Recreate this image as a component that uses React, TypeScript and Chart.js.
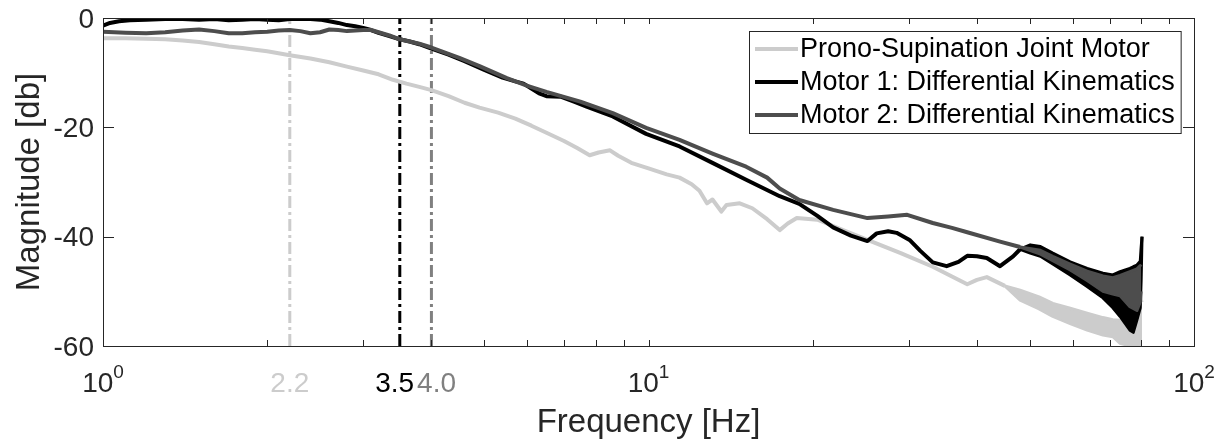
import React, { useEffect, useRef } from "react";
import { Chart, registerables } from "chart.js";

Chart.register(...registerables);

// ---------- data ----------
const seriesLabels = [
  "Prono-Supination Joint Motor",
  "Motor 1: Differential Kinematics",
  "Motor 2: Differential Kinematics",
];
const seriesColors = ["#cccccc", "#000000", "#4d4d4d"];

// Prono-Supination joint motor: smooth part
const pronoFreq = [
  1.0, 1.1, 1.2, 1.3, 1.4, 1.5, 1.6, 1.7, 1.8, 1.9, 2.0, 2.2, 2.4, 2.6, 2.8, 3.0, 3.2, 3.4, 3.6, 3.8,
  4.0, 4.3, 4.6, 4.9, 5.3, 5.7, 6.1, 6.5, 7.0, 7.4, 7.8, 8.1, 8.5, 8.8, 9.3, 10.0, 10.8, 11.4, 12.0,
  12.4, 12.8, 13.1, 13.6, 13.9, 14.7, 15.5, 16.5, 17.4, 18.0, 18.7, 20.4, 22.5, 25.2, 29.0, 33.2,
  36.0, 38.4, 40.0, 41.7, 45.0,
];
const pronoMag = [
  -3.7, -3.7, -3.8, -3.9, -4.1, -4.4, -4.8, -5.2, -5.5, -5.8, -6.1, -6.8, -7.4, -8.1, -8.9, -9.6,
  -10.3, -11.3, -12.0, -12.6, -13.2, -14.3, -15.5, -16.4, -17.3, -18.4, -19.7, -21.0, -22.5, -23.8,
  -25.1, -24.6, -24.2, -25.2, -26.5, -27.5, -28.6, -29.2, -30.4, -31.6, -33.9, -33.2, -35.4, -34.2,
  -33.9, -34.8, -36.8, -38.8, -37.6, -36.6, -36.9, -38.6, -40.6, -43.0, -45.5, -47.3, -48.7, -47.9,
  -47.4, -49.0,
];
// Prono noisy tail: upper and lower envelope of the band
const pronoTailFreq = [45.0, 48.0, 52.0, 55.1, 59.3, 63.7, 68.1, 71.0, 73.2, 76.3, 78.6, 79.7, 80.3];
const pronoTailUpper = [-49.0, -49.8, -51.0, -52.2, -53.1, -54.0, -54.8, -55.2, -55.3, -55.2, -53.0, -50.5, -52.0];
const pronoTailLower = [-49.0, -51.6, -53.2, -54.6, -55.9, -57.1, -58.0, -58.3, -59.5, -60.0, -60.0, -60.0, -60.0];

// Motor 1: smooth part
const motor1Freq = [
  1.0, 1.03, 1.07, 1.12, 1.2, 1.3, 1.4, 1.5, 1.6, 1.7, 1.8, 1.9, 2.0, 2.1, 2.2, 2.3, 2.4, 2.5, 2.6,
  2.7, 2.8, 2.9, 3.0, 3.1, 3.2, 3.35, 3.5, 3.65, 3.8, 4.0, 4.3, 4.6, 5.0, 5.4, 5.7, 5.9, 6.1, 6.3,
  6.5, 6.9, 7.3, 7.7, 8.6, 9.9, 11.4, 13.1, 15.1, 17.4, 18.9, 20.4, 21.8, 23.5, 25.2, 26.2, 27.5,
  28.5, 30.1, 31.5, 33.2, 35.2, 37.0, 38.4, 40.0, 41.7, 44.1, 46.6, 48.0,
];
const motor1Mag = [
  -1.4, -0.9, -0.6, -0.4, -0.3, -0.2, -0.2, -0.3, -0.2, -0.4, -0.3, -0.2, -0.3, -0.4, -0.2, -0.2,
  -0.2, -0.3, -0.6, -0.9, -1.3, -1.5, -1.8, -2.2, -2.7, -3.3, -3.9, -4.3, -4.8, -5.6, -6.7, -7.9,
  -9.5, -10.9, -11.6, -12.0, -12.9, -13.8, -14.3, -14.4, -15.3, -16.2, -18.0, -21.2, -23.5, -26.5,
  -29.6, -32.6, -34.0, -36.2, -38.3, -39.8, -40.8, -39.4, -39.0, -39.3, -40.6, -42.6, -44.7, -45.4,
  -44.6, -43.5, -43.6, -43.9, -45.4, -43.6, -42.3,
];
// Motor 1 noisy tail
const motor1TailFreq = [48.0, 50.1, 52.3, 55.1, 59.3, 63.7, 68.1, 71.0, 73.2, 76.3, 77.4, 78.6, 79.7, 80.0, 80.3];
const motor1TailUpper = [-42.3, -41.5, -41.8, -43.0, -44.6, -45.8, -46.7, -47.0, -46.4, -45.8, -45.5, -45.2, -44.5, -42.0, -40.0];
const motor1TailLower = [-42.3, -43.0, -43.6, -45.0, -47.0, -49.1, -51.2, -53.0, -54.6, -57.1, -57.5, -55.2, -53.0, -48.0, -40.0];

// Motor 2: smooth part
const motor2Freq = [
  1.0, 1.1, 1.2, 1.3, 1.4, 1.5, 1.6, 1.7, 1.8, 1.9, 2.0, 2.1, 2.2, 2.3, 2.4, 2.5, 2.6, 2.7, 2.8, 2.9,
  3.0, 3.1, 3.2, 3.35, 3.5, 3.8, 4.0, 4.5, 4.9, 5.5, 6.0, 6.5, 7.5, 8.6, 9.9, 11.4, 13.1, 15.1, 16.5,
  17.4, 18.9, 21.8, 25.2, 27.5, 29.8, 33.2, 36.0, 38.4, 44.1, 48.0,
];
const motor2Mag = [
  -2.5, -2.7, -2.8, -2.6, -2.3, -2.1, -2.4, -2.8, -2.8, -2.6, -2.5, -2.3, -2.2, -2.4, -2.8, -2.6,
  -2.1, -2.2, -2.4, -2.3, -2.2, -2.2, -2.6, -3.2, -3.9, -4.7, -5.4, -7.3, -8.8, -11.0, -12.4, -13.5,
  -15.3, -17.4, -20.1, -22.3, -24.8, -27.2, -29.2, -31.2, -33.3, -35.1, -36.6, -36.3, -36.0, -37.5,
  -38.4, -39.2, -40.9, -41.9,
];
// Motor 2 noisy tail
const motor2TailFreq = [48.0, 52.3, 55.1, 59.3, 63.7, 68.1, 71.0, 73.2, 76.3, 78.6, 79.7, 80.0];
const motor2TailUpper = [-41.9, -42.5, -43.6, -45.0, -46.3, -47.2, -47.5, -47.1, -46.4, -45.9, -45.3, -45.5];
const motor2TailLower = [-41.9, -43.2, -44.4, -46.1, -48.0, -50.0, -50.5, -50.8, -52.8, -53.5, -52.0, -50.0];

const cutoffFreqs = [2.2, 3.5, 4.0];
const cutoffLabels = ["2.2", "3.5", "4.0"];
const cutoffColors = ["#cccccc", "#000000", "#808080"];

const xRange = [1, 100];
const yRange = [-60, 0];
const yTicks = [-60, -40, -20, 0];
const decadeTicks = [1, 10, 100];
const decadeExponents = ["0", "1", "2"];
const minorTicks = [2, 3, 4, 5, 6, 7, 8, 9, 20, 30, 40, 50, 60, 70, 80, 90];

const xTitle = "Frequency [Hz]";
const yTitle = "Magnitude [db]";

// ---------- drawing helpers ----------
const FONT = "'Liberation Sans', Arial, Helvetica, sans-serif";
const AXIS_COLOR = "#262626";

const matlabAxesPlugin = {
  id: "matlabAxes",
  afterDatasetsDraw(chart: any) {
    const { ctx, chartArea: a } = chart;
    const x = chart.scales.x;
    const y = chart.scales.y;
    const L = Math.round(a.left);
    const R = Math.round(a.right);
    const T = Math.round(a.top);
    const B = Math.round(a.bottom);
    ctx.save();

    // box
    ctx.strokeStyle = AXIS_COLOR;
    ctx.lineWidth = 1;
    ctx.strokeRect(L + 0.5, T + 0.5, R - L, B - T);

    // ticks pointing inward
    ctx.beginPath();
    [...minorTicks, ...decadeTicks].forEach((f) => {
      const px = Math.round(x.getPixelForValue(f)) + 0.5;
      ctx.moveTo(px, B);
      ctx.lineTo(px, B - 6);
      ctx.moveTo(px, T);
      ctx.lineTo(px, T + 6);
    });
    yTicks.forEach((v) => {
      const py = Math.round(y.getPixelForValue(v)) + 0.5;
      ctx.moveTo(L, py);
      ctx.lineTo(L + 11, py);
      ctx.moveTo(R, py);
      ctx.lineTo(R - 11, py);
    });
    ctx.stroke();

    // y tick labels
    ctx.fillStyle = AXIS_COLOR;
    ctx.font = `28px ${FONT}`;
    ctx.textAlign = "right";
    ctx.textBaseline = "middle";
    yTicks.forEach((v) => {
      ctx.fillText(String(v), L - 9, y.getPixelForValue(v) + 2);
    });

    // x decade labels with superscripts
    const baseY = B + 46;
    ctx.textBaseline = "alphabetic";
    ctx.textAlign = "left";
    decadeTicks.forEach((f, i) => {
      ctx.font = `28px ${FONT}`;
      const wBase = ctx.measureText("10").width;
      ctx.font = `19px ${FONT}`;
      const wExp = ctx.measureText(decadeExponents[i]).width;
      const cx = x.getPixelForValue(f);
      const start = cx - (wBase + wExp) / 2;
      ctx.font = `28px ${FONT}`;
      ctx.fillStyle = AXIS_COLOR;
      ctx.fillText("10", start, baseY);
      ctx.font = `19px ${FONT}`;
      ctx.fillText(decadeExponents[i], start + wBase, baseY - 14);
    });

    // cutoff labels (coloured), pushed apart if they collide
    ctx.font = `28px ${FONT}`;
    const boxes = cutoffFreqs.map((f, i) => {
      const w = ctx.measureText(cutoffLabels[i]).width;
      const c = x.getPixelForValue(f);
      return { l: c - w / 2, w, i };
    });
    for (let k = 0; k < boxes.length - 1; k++) {
      const p = boxes[k];
      const n = boxes[k + 1];
      const overlap = p.l + p.w + 3 - n.l;
      if (overlap > 0) {
        p.l -= overlap / 2;
        n.l += overlap / 2;
      }
    }
    boxes.forEach((b) => {
      ctx.fillStyle = cutoffColors[b.i];
      ctx.fillText(cutoffLabels[b.i], b.l, baseY);
    });

    // axis titles
    ctx.fillStyle = AXIS_COLOR;
    ctx.font = `33px ${FONT}`;
    ctx.textAlign = "center";
    ctx.fillText(xTitle, (a.left + a.right) / 2, B + 86);
    ctx.save();
    ctx.translate(L - 73, (a.top + a.bottom) / 2);
    ctx.rotate(-Math.PI / 2);
    ctx.textBaseline = "middle";
    ctx.fillText(yTitle, 0, 0);
    ctx.restore();

    // legend
    ctx.font = `27px ${FONT}`;
    const textW = Math.max(...seriesLabels.map((s) => ctx.measureText(s).width));
    const boxW = 51 + textW + 6;
    const boxH = 102;
    const bx = Math.round(R - 13 - boxW);
    const by = T + 13;
    ctx.fillStyle = "#ffffff";
    ctx.fillRect(bx, by, boxW, boxH);
    ctx.strokeStyle = AXIS_COLOR;
    ctx.lineWidth = 1;
    ctx.strokeRect(bx + 0.5, by + 0.5, boxW, boxH);
    seriesLabels.forEach((s, i) => {
      const ry = by + 18 + i * 33;
      ctx.strokeStyle = seriesColors[i];
      ctx.lineWidth = 4;
      ctx.beginPath();
      ctx.moveTo(bx + 6, ry);
      ctx.lineTo(bx + 49, ry);
      ctx.stroke();
      ctx.fillStyle = "#000000";
      ctx.textAlign = "left";
      ctx.textBaseline = "middle";
      ctx.fillText(s, bx + 51, ry + 1);
    });

    ctx.restore();
  },
};

const toPoints = (fs: number[], ms: number[]) => fs.map((f, i) => ({ x: f, y: ms[i] }));

export default function App() {
  const canvasRef = useRef<HTMLCanvasElement | null>(null);

  useEffect(() => {
    const canvas = canvasRef.current;
    if (!canvas) return;

    const curveBase = {
      borderWidth: 4,
      pointRadius: 0,
      tension: 0,
      fill: false,
      borderJoinStyle: "round" as const,
      borderCapStyle: "butt" as const,
    };

    const bandPair = (
      label: string,
      freq: number[],
      upper: number[],
      lower: number[],
      color: string,
      order: number
    ) => [
      {
        label: label + " (tail upper)",
        data: toPoints(freq, upper),
        borderColor: color,
        backgroundColor: color,
        borderWidth: 3,
        pointRadius: 0,
        tension: 0,
        fill: "+1",
        borderJoinStyle: "round" as const,
        order,
      },
      {
        label: label + " (tail lower)",
        data: toPoints(freq, lower),
        borderColor: color,
        backgroundColor: color,
        borderWidth: 3,
        pointRadius: 0,
        tension: 0,
        fill: false,
        borderJoinStyle: "round" as const,
        order,
      },
    ];

    const cutoffDatasets = cutoffFreqs.map((f, i) => ({
      label: "cutoff " + cutoffLabels[i],
      data: [
        { x: f, y: yRange[0] },
        { x: f, y: yRange[1] },
      ],
      borderColor: cutoffColors[i],
      borderWidth: 3,
      borderDash: [12, 4, 3, 4],
      pointRadius: 0,
      fill: false,
      order: 10,
    }));

    const chart = new Chart(canvas, {
      type: "line",
      data: {
        datasets: [
          { label: seriesLabels[2], data: toPoints(motor2Freq, motor2Mag), borderColor: seriesColors[2], ...curveBase, order: 1 },
          ...bandPair(seriesLabels[2], motor2TailFreq, motor2TailUpper, motor2TailLower, seriesColors[2], 1),
          { label: seriesLabels[1], data: toPoints(motor1Freq, motor1Mag), borderColor: seriesColors[1], ...curveBase, order: 2 },
          ...bandPair(seriesLabels[1], motor1TailFreq, motor1TailUpper, motor1TailLower, seriesColors[1], 2),
          { label: seriesLabels[0], data: toPoints(pronoFreq, pronoMag), borderColor: seriesColors[0], ...curveBase, order: 3 },
          ...bandPair(seriesLabels[0], pronoTailFreq, pronoTailUpper, pronoTailLower, seriesColors[0], 3),
          ...cutoffDatasets,
        ],
      },
      options: {
        animation: false,
        responsive: false,
        devicePixelRatio: 1,
        layout: { padding: { left: 103, top: 18, right: 33, bottom: 95 } },
        plugins: { legend: { display: false }, tooltip: { enabled: false } },
        events: [],
        scales: {
          x: { type: "logarithmic", min: xRange[0], max: xRange[1], display: false },
          y: { type: "linear", min: yRange[0], max: yRange[1], display: false },
        },
      },
      plugins: [matlabAxesPlugin],
    });

    return () => chart.destroy();
  }, []);

  return (
    <div style={{ position: "fixed", left: 0, top: 0, width: 1227, height: 441, background: "#ffffff" }}>
      <canvas ref={canvasRef} width={1227} height={441} style={{ display: "block", width: 1227, height: 441 }} />
    </div>
  );
}
